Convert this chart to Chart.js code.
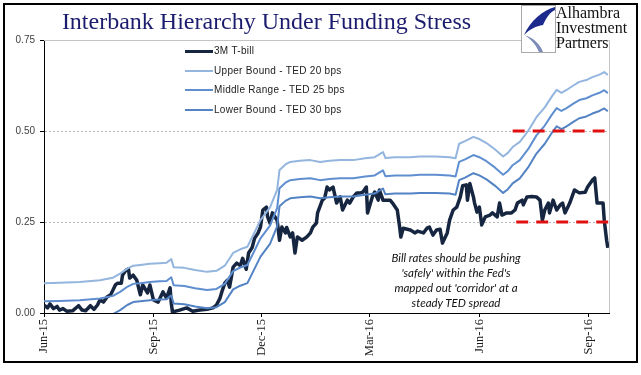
<!DOCTYPE html>
<html>
<head>
<meta charset="utf-8">
<script src="https://cdn.jsdelivr.net/npm/chart.js@4.4.1/dist/chart.umd.min.js"></script>
<style>
  html, body { margin: 0; padding: 0; background: #fff; }
  #wrap { position: relative; width: 641px; height: 375px; overflow: hidden; }
  #chart { position: absolute; left: 0; top: 0; }
  #frame { position: absolute; left: 3px; top: 3px; width: 631px; height: 356px; border: 2px solid #000; pointer-events: none; }
  #title { position: absolute; left: 0; width: 533px; top: 9px; text-align: center; white-space: nowrap;
           font: 24px "Liberation Serif", serif; line-height: 24px; color: #1c1c6e; }
  #logoBox { position: absolute; left: 521px; top: 5px; width: 33px; height: 46px; border: 1px solid #aaa; background: #fff; }
  #logoText { position: absolute; left: 556px; top: 5px; font: 16px "Liberation Serif", serif; line-height: 15px; color: #111; }
  .leg { position: absolute; left: 185px; height: 12px; font: 10px "Liberation Sans", Arial, sans-serif; letter-spacing: 0.3px; color: #222; white-space: nowrap; }
  .leg i { position: absolute; left: 0; width: 28px; }
  .leg span { position: absolute; left: 29px; top: 0; line-height: 12px; }
  #note { position: absolute; left: 356px; width: 200px; top: 250px; text-align: center; font: italic 11.5px Lato, sans-serif; line-height: 15px; color: #111; }
</style>
</head>
<body>
<div id="wrap">
  <canvas id="chart" width="641" height="375"></canvas>
  <div id="frame"></div>
  <div id="title">Interbank Hierarchy Under Funding Stress</div>
  <div id="logoBox">
    <svg width="33" height="46" viewBox="0 0 33 46">
      <path d="M33,1 C21,4 8,15 2,29 C8,23 14,20 21,19 C24,12 28,6 33,4 Z" fill="#1b2a8c"/>
      <path d="M2,29 C9,33 14,39 17,46 L21,46 C18,38 12,32 2,29 Z" fill="#7d8bb8"/>
    </svg>
  </div>
  <div id="logoText">Alhambra<br>Investment<br>Partners</div>
  <div class="leg" style="top:45px"><i style="top:5px;height:3px;background:#162640"></i><span>3M T-bill</span></div>
  <div class="leg" style="top:64.5px"><i style="top:5px;height:2px;background:#93b5de"></i><span>Upper Bound - TED 20 bps</span></div>
  <div class="leg" style="top:84px"><i style="top:5px;height:2px;background:#5f8fd0"></i><span>Middle Range - TED 25 bps</span></div>
  <div class="leg" style="top:103.5px"><i style="top:5px;height:2px;background:#5383c4"></i><span>Lower Bound - TED 30 bps</span></div>
  <div id="note">Bill rates should be pushing<br>'safely' within the Fed's<br>mapped out 'corridor' at a<br>steady TED spread</div>
</div>
<script>
// days counted from 1 Jun 2015
const tickDays = [0, 92, 183, 274, 366, 458];
const tickLabels = ['Jun-15', 'Sep-15', 'Dec-15', 'Mar-16', 'Jun-16', 'Sep-16'];
const yTicks = [0, 0.25, 0.5, 0.75];

const boundDays = [0, 13, 30, 47, 58, 64, 70, 75, 81, 89, 97, 103, 107, 109, 118, 127, 137, 145, 152, 159,
  165, 171, 176, 182, 190, 196, 198, 203, 207, 215, 224, 232, 240, 249, 260, 270, 278, 285, 287, 295,
  308, 316, 329, 341, 346, 349, 354, 361, 366, 372, 379, 386, 390, 394, 400, 407, 414, 421, 427, 431,
  435, 439, 445, 450, 456, 461, 467, 471, 474];

const upperBound = [0.082, 0.083, 0.085, 0.090, 0.097, 0.108, 0.122, 0.130, 0.132, 0.135,
  0.137, 0.138, 0.148, 0.126, 0.124, 0.118, 0.113, 0.116, 0.130, 0.165,
  0.175, 0.182, 0.215, 0.255, 0.290, 0.338, 0.393, 0.408, 0.415, 0.418,
  0.420, 0.415, 0.418, 0.420, 0.420, 0.425, 0.428, 0.442, 0.426, 0.428,
  0.428, 0.430, 0.430, 0.428, 0.425, 0.465, 0.472, 0.484, 0.478, 0.467,
  0.450, 0.430, 0.440, 0.456, 0.470, 0.500, 0.538, 0.565, 0.595, 0.613,
  0.605, 0.612, 0.625, 0.635, 0.640, 0.648, 0.655, 0.662, 0.654];

const middleRange = [0.032, 0.033, 0.035, 0.040, 0.047, 0.058, 0.072, 0.080, 0.082, 0.085,
  0.087, 0.088, 0.098, 0.076, 0.074, 0.068, 0.063, 0.066, 0.080, 0.115,
  0.125, 0.132, 0.165, 0.205, 0.240, 0.288, 0.343, 0.358, 0.365, 0.368,
  0.370, 0.365, 0.368, 0.370, 0.370, 0.375, 0.378, 0.392, 0.376, 0.378,
  0.378, 0.380, 0.380, 0.378, 0.375, 0.415, 0.422, 0.434, 0.428, 0.417,
  0.400, 0.380, 0.390, 0.406, 0.420, 0.450, 0.488, 0.515, 0.545, 0.563,
  0.555, 0.562, 0.575, 0.585, 0.590, 0.598, 0.605, 0.612, 0.604];

const lowerBound = [-0.018, -0.017, -0.015, -0.010, -0.003, 0.008, 0.022, 0.030, 0.032, 0.035,
  0.037, 0.038, 0.048, 0.026, 0.024, 0.018, 0.013, 0.016, 0.030, 0.065,
  0.075, 0.082, 0.115, 0.155, 0.190, 0.238, 0.293, 0.308, 0.315, 0.318,
  0.320, 0.315, 0.318, 0.320, 0.320, 0.325, 0.328, 0.342, 0.326, 0.328,
  0.328, 0.330, 0.330, 0.328, 0.325, 0.365, 0.372, 0.384, 0.378, 0.367,
  0.350, 0.330, 0.340, 0.356, 0.370, 0.400, 0.438, 0.465, 0.495, 0.513,
  0.505, 0.512, 0.525, 0.535, 0.540, 0.548, 0.555, 0.562, 0.554];

const tbillDays = [0, 3, 5, 8, 11, 13, 16, 19, 24, 29, 32, 35, 39, 42, 45, 47, 50, 53, 56, 58,
  60, 62, 65, 66, 69, 71, 72, 75, 78, 81, 83, 87, 89, 92, 96, 100, 103, 106, 107, 108,
  114, 120, 125, 131, 137, 142, 145, 148, 150, 152, 154, 156, 159, 162, 165, 167, 170, 172, 175, 177,
  180, 182, 184, 187, 188, 190, 192, 196, 198, 200, 203, 204, 207, 209, 211, 213, 217, 221, 224, 226,
  229, 230, 234, 236, 238, 240, 243, 246, 249, 251, 255, 257, 260, 263, 266, 268, 271, 272, 276, 278,
  281, 282, 285, 288, 291, 293, 297, 299, 300, 302, 308, 312, 314, 319, 322, 324, 327, 330, 333, 335,
  339, 341, 344, 347, 350, 352, 355, 356, 358, 361, 362, 364, 366, 368, 371, 375, 377, 381, 383, 385,
  389, 393, 396, 398, 402, 403, 406, 410, 414, 417, 419, 421, 424, 425, 428, 431, 434, 436, 438, 442,
  446, 450, 455, 457, 461, 463, 465, 467, 470, 471, 473, 474];

const tbillRates = [0.022, 0.014, 0.025, 0.012, 0.018, 0.008, 0.012, 0.005, 0.006, 0.020, 0.008, 0.006, 0.020, 0.010, 0.022, 0.036, 0.030, 0.044, 0.050, 0.063,
  0.077, 0.082, 0.082, 0.104, 0.118, 0.121, 0.096, 0.104, 0.090, 0.050, 0.077, 0.055, 0.077, 0.036, 0.030, 0.058, 0.041, 0.069, 0.027, 0.003,
  0.008, 0.014, 0.005, 0.008, 0.010, 0.014, 0.022, 0.041, 0.063, 0.082, 0.090, 0.071, 0.126, 0.137, 0.130, 0.150, 0.120, 0.165, 0.180, 0.205,
  0.220, 0.236, 0.283, 0.291, 0.264, 0.247, 0.275, 0.255, 0.200, 0.236, 0.220, 0.235, 0.209, 0.220, 0.165, 0.209, 0.200, 0.209, 0.220, 0.236,
  0.247, 0.275, 0.310, 0.316, 0.346, 0.338, 0.346, 0.302, 0.319, 0.283, 0.310, 0.302, 0.319, 0.330, 0.330, 0.332, 0.346, 0.275, 0.319, 0.332,
  0.310, 0.338, 0.310, 0.310, 0.310, 0.302, 0.283, 0.236, 0.209, 0.233, 0.228, 0.220, 0.225, 0.220, 0.233, 0.236, 0.214, 0.228, 0.230, 0.192,
  0.220, 0.255, 0.283, 0.291, 0.319, 0.350, 0.352, 0.310, 0.356, 0.319, 0.302, 0.277, 0.291, 0.242, 0.264, 0.269, 0.275, 0.264, 0.302, 0.269,
  0.275, 0.275, 0.283, 0.302, 0.310, 0.297, 0.319, 0.320, 0.319, 0.310, 0.255, 0.283, 0.302, 0.275, 0.310, 0.283, 0.297, 0.302, 0.275, 0.302,
  0.338, 0.330, 0.332, 0.346, 0.365, 0.371, 0.302, 0.302, 0.302, 0.255, 0.200, 0.179];

// red "corridor" markers: level, first day, last day
const corridorLevels = [0.50, 0.25];
const corridorStart = [394, 397];
const corridorEnd = 475;

const pts = (xs, ys) => xs.map((x, i) => ({ x: x, y: ys[i] }));

const plotBorder = {
  id: 'plotBorder',
  beforeDatasetsDraw(chart) {
    const { ctx, chartArea: a } = chart;
    ctx.save();
    ctx.strokeStyle = '#c4c4c4';
    ctx.lineWidth = 1;
    ctx.beginPath();
    ctx.moveTo(a.left, a.top + 0.5);
    ctx.lineTo(Math.round(a.right) + 0.5, a.top + 0.5);
    ctx.lineTo(Math.round(a.right) + 0.5, a.bottom);
    ctx.stroke();
    ctx.restore();
  }
};

const lineDefaults = { pointRadius: 0, tension: 0, fill: false, borderJoinStyle: 'round' };

new Chart(document.getElementById('chart').getContext('2d'), {
  type: 'line',
  data: {
    datasets: [
      { ...lineDefaults, label: '3M T-bill', data: pts(tbillDays, tbillRates), borderColor: '#162640', borderWidth: 3.5, order: 2 },
      { ...lineDefaults, label: 'Upper Bound - TED 20 bps', data: pts(boundDays, upperBound), borderColor: '#93b5de', borderWidth: 2, order: 1 },
      { ...lineDefaults, label: 'Middle Range - TED 25 bps', data: pts(boundDays, middleRange), borderColor: '#5f8fd0', borderWidth: 2, order: 1 },
      { ...lineDefaults, label: 'Lower Bound - TED 30 bps', data: pts(boundDays, lowerBound), borderColor: '#5383c4', borderWidth: 2, order: 1 },
      ...corridorLevels.map((lvl, i) => ({
        ...lineDefaults, label: 'corridor', data: [{ x: corridorStart[i], y: lvl }, { x: corridorEnd, y: lvl }],
        borderColor: '#e01010', borderWidth: 3, borderDash: [12, 8], borderCapStyle: 'butt', order: 0
      }))
    ]
  },
  options: {
    responsive: false,
    animation: false,
    events: [],
    layout: { padding: { left: 0, top: 40, right: 32, bottom: 0 } },
    plugins: { legend: { display: false }, tooltip: { enabled: false } },
    scales: {
      x: {
        type: 'linear',
        min: 0,
        max: 475,
        afterBuildTicks: s => { s.ticks = tickDays.map(v => ({ value: v })); },
        afterFit: s => { s.height = 62; },
        ticks: {
          autoSkip: false,
          minRotation: 90,
          maxRotation: 90,
          padding: 2,
          color: '#1a1a1a',
          font: { family: 'Liberation Serif', size: 12.5 },
          callback: v => tickLabels[tickDays.indexOf(v)]
        },
        grid: { drawOnChartArea: false, tickLength: 4, tickColor: '#000' },
        border: { color: '#000', width: 1 }
      },
      y: {
        min: 0,
        max: 0.75,
        afterBuildTicks: s => { s.ticks = yTicks.map(v => ({ value: v })); },
        afterFit: s => { s.width = 44; },
        ticks: {
          padding: 5,
          color: '#404040',
          font: { family: 'Liberation Sans', size: 10 },
          callback: v => v.toFixed(2)
        },
        grid: { color: '#b8b8b8', tickLength: 4, tickColor: '#000', tickBorderDash: [] },
        border: { color: '#000', width: 1, dash: [2, 2] }
      }
    }
  },
  plugins: [plotBorder]
});
</script>
</body>
</html>
